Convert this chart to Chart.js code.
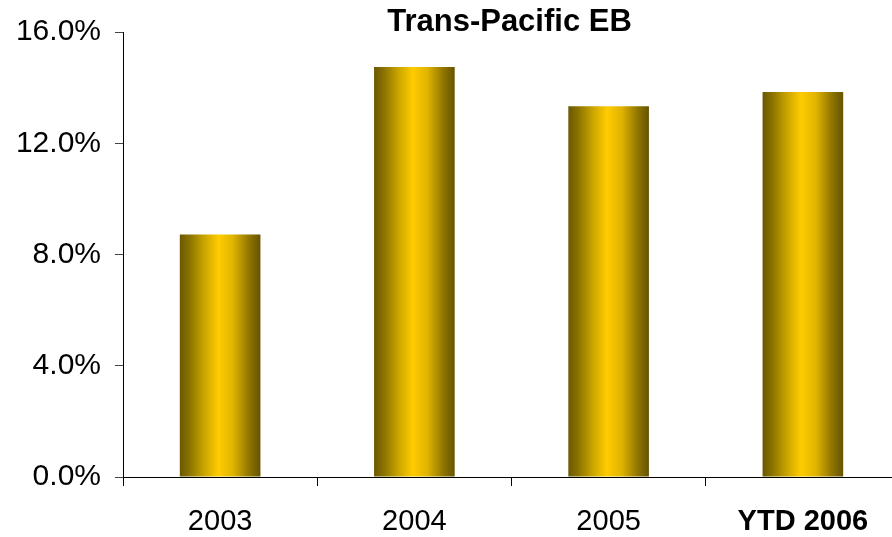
<!DOCTYPE html>
<html>
<head>
<meta charset="utf-8">
<script src="https://cdn.jsdelivr.net/npm/chart.js@4.4.1/dist/chart.umd.min.js"></script>
<style>
  html, body { margin: 0; padding: 0; background: #ffffff; overflow: hidden; }
  #wrap { width: 900px; height: 537px; position: relative; }
</style>
</head>
<body>
<div id="wrap"><canvas id="c"></canvas></div>
<script>
// Annual growth, Trans-Pacific eastbound
const chartTitle = 'Trans-Pacific EB';
const categories = ['2003', '2004', '2005', 'YTD 2006'];
const growthPct = [8.72, 14.74, 13.33, 13.84];
const yTickValues = [0, 4, 8, 12, 16];

const FONT = 'Arial, "Liberation Sans", Helvetica, sans-serif';

// Horizontal gold shading across each bar (dark edges, bright middle)
const barShading = {
  id: 'barShading',
  beforeDatasetsDraw(chart) {
    const ctx = chart.ctx;
    chart.getDatasetMeta(0).data.forEach(el => {
      const left = el.x - el.width / 2;
      const right = el.x + el.width / 2;
      const g = ctx.createLinearGradient(left, 0, right, 0);
      g.addColorStop(0, '#6b5800');
      g.addColorStop(0.12, '#8a7200');
      g.addColorStop(0.3, '#c9a400');
      g.addColorStop(0.48, '#ffcc00');
      g.addColorStop(0.66, '#e0b400');
      g.addColorStop(0.86, '#8f7500');
      g.addColorStop(1, '#665300');
      el.options = Object.assign({}, el.options, { backgroundColor: g });
    });
  }
};

// Title centred over the plot area
const plotTitle = {
  id: 'plotTitle',
  afterDraw(chart) {
    const ctx = chart.ctx;
    const a = chart.chartArea;
    ctx.save();
    ctx.font = 'bold 31px ' + FONT;
    ctx.fillStyle = '#000';
    ctx.textAlign = 'center';
    ctx.textBaseline = 'alphabetic';
    ctx.fillText(chartTitle, (a.left + a.right) / 2 - 2, 31);
    ctx.restore();
  }
};

new Chart(document.getElementById('c'), {
  type: 'bar',
  data: {
    labels: categories,
    datasets: [{
      data: growthPct,
      backgroundColor: '#ffcc00',
      borderWidth: 0,
      barPercentage: 0.83,
      categoryPercentage: 0.5
    }]
  },
  options: {
    responsive: true,
    maintainAspectRatio: false,
    animation: false,
    layout: { padding: { top: 31, right: 0, bottom: 0, left: 0 } },
    plugins: { legend: { display: false }, title: { display: false }, tooltip: { enabled: false } },
    scales: {
      x: {
        offset: true,
        grid: { offset: true, drawOnChartArea: false, drawTicks: true, tickLength: 9, color: '#000', lineWidth: 1 },
        border: { display: true, color: '#000', width: 1 },
        ticks: {
          color: '#000',
          padding: 19,
          maxRotation: 0,
          font: (c) => ({ family: FONT, size: 29, weight: c.index === 3 ? 'bold' : 'normal' })
        },
        afterFit(scale) { scale.height = 60; }
      },
      y: {
        min: 0,
        max: 16,
        afterBuildTicks(scale) { scale.ticks = yTickValues.map(v => ({ value: v })); },
        grid: { drawOnChartArea: false, drawTicks: true, tickLength: 8, color: '#444', lineWidth: 1 },
        border: { display: true, color: '#000', width: 1 },
        ticks: {
          color: '#000',
          padding: 14,
          font: { family: FONT, size: 30 },
          callback: (v) => Number(v).toFixed(1) + '%'
        },
        afterFit(scale) { scale.width = 123; }
      }
    }
  },
  plugins: [barShading, plotTitle]
});
</script>
</body>
</html>
